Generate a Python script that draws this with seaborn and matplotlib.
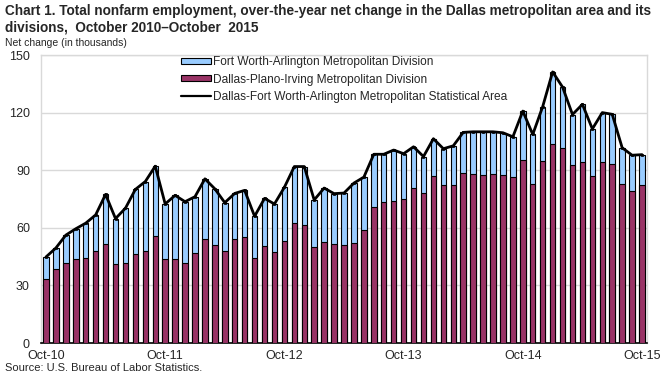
import numpy as np
import pandas as pd
import matplotlib
matplotlib.use("Agg")
import matplotlib.pyplot as plt
import seaborn as sns
from matplotlib.patches import Patch
from matplotlib.lines import Line2D

# Data (thousands), Oct-2010 .. Oct-2015, monthly
total = [44.8, 49.5, 56.2, 59.5, 62.4, 66.7, 77.4, 64.8, 70.2, 80.0, 84.1, 92.1,
         72.4, 76.9, 73.6, 76.2, 85.5, 80.3, 73.1, 77.9, 79.5, 66.0, 75.3, 72.4,
         81.1, 91.9, 91.9, 74.5, 80.7, 77.8, 78.1, 83.3, 86.4, 98.3, 98.3, 100.5,
         98.6, 102.2, 97.1, 106.4, 101.2, 102.7, 109.7, 110.0, 110.0, 110.0, 109.5, 107.4,
         120.8, 108.6, 123.1, 141.2, 133.3, 119.0, 124.3, 111.5, 120.0, 119.1, 101.7, 97.8,
         98.1]
dallas = [33.1, 38.3, 41.9, 43.5, 44.5, 48.1, 51.7, 40.9, 41.9, 46.6, 48.1, 55.9,
          44.0, 43.8, 41.9, 47.1, 54.3, 51.2, 48.1, 54.3, 55.4, 44.5, 50.7, 47.6,
          53.3, 62.6, 61.6, 50.2, 52.8, 51.7, 51.2, 52.2, 59.0, 70.9, 73.5, 74.0,
          75.0, 80.9, 78.3, 86.9, 82.3, 82.3, 88.5, 87.9, 87.4, 87.9, 87.4, 86.4,
          95.3, 82.8, 94.7, 103.5, 101.4, 92.6, 94.2, 86.9, 94.2, 93.1, 82.8, 79.2,
          82.3]
tick_labels = ["Oct-10", "Oct-11", "Oct-12", "Oct-13", "Oct-14", "Oct-15"]
series_names = ["Fort Worth-Arlington Metropolitan Division",
                "Dallas-Plano-Irving Metropolitan Division",
                "Dallas-Fort Worth-Arlington Metropolitan Statistical Area"]

df = pd.DataFrame({"i": np.arange(len(total)), "total": total, "dallas": dallas})

sns.set_theme(style="white")
plt.rcParams["font.family"] = ["Liberation Sans", "DejaVu Sans"]

fig = plt.figure(figsize=(6.64, 3.75), dpi=100)
ax = fig.add_axes([41/664, 1-343/375, (647-41)/664, (343-55)/375])

blue = "#99CCFF"
purple = "#993366"
sns.barplot(data=df, x="i", y="total", color=blue, width=0.55,
            edgecolor="black", linewidth=0.8, saturation=1, ax=ax, zorder=2)
sns.barplot(data=df, x="i", y="dallas", color=purple, width=0.55,
            edgecolor="black", linewidth=0.8, saturation=1, ax=ax, zorder=3)
sns.lineplot(data=df, x="i", y="total", color="black", linewidth=2, ax=ax,
             zorder=4, marker="s", markersize=2, markerfacecolor="black",
             markeredgecolor="black", markeredgewidth=0.5)

ax.set_xlim(-0.5, len(total) - 0.5)
ax.set_ylim(0, 150)
ax.set_yticks([0, 30, 60, 90, 120, 150])
ax.set_yticklabels(["0", "30", "60", "90", "120", "150"], fontsize=9)
ax.set_xticks(np.arange(0, 61, 12))
ax.set_xticklabels(tick_labels, fontsize=9)
ax.tick_params(axis="y", length=0, pad=8)
ax.tick_params(axis="x", length=0, pad=5)
ax.set_xlabel("")
ax.set_ylabel("")
ax.grid(axis="y", color="#d9d9d9", linewidth=1, zorder=0)
ax.set_axisbelow(True)
for s in ["left", "right", "top"]:
    ax.spines[s].set_color("#d9d9d9")
    ax.spines[s].set_linewidth(1)
ax.spines["bottom"].set_color("black")
ax.spines["bottom"].set_linewidth(1.2)

handles = [Patch(facecolor=blue, edgecolor="black", linewidth=0.8),
           Patch(facecolor=purple, edgecolor="black", linewidth=0.8),
           Line2D([0], [0], color="black", linewidth=1.6)]
leg = ax.legend(handles, series_names, loc="upper left",
                bbox_to_anchor=((181-41)/606, (343-56.5)/288), frameon=False,
                fontsize=8.6, handlelength=2.5, handleheight=0.45,
                handletextpad=0.2, labelspacing=0.42, borderaxespad=0,
                borderpad=0)

fig.text(5/664, 1-4/375,
         "Chart 1. Total nonfarm employment, over-the-year net change in the Dallas metropolitan area and its\ndivisions,  October 2010\u2013October  2015",
         fontsize=9.85, fontweight="bold", va="top", ha="left", linespacing=1.2)
fig.text(5/664, 1-38/375, "Net change (in thousands)", fontsize=7.5, va="top", ha="left")
fig.text(5/664, 1-363/375, "Source: U.S. Bureau of Labor Statistics.", fontsize=8,
         va="top", ha="left")

fig.savefig("out.png", dpi=100)
